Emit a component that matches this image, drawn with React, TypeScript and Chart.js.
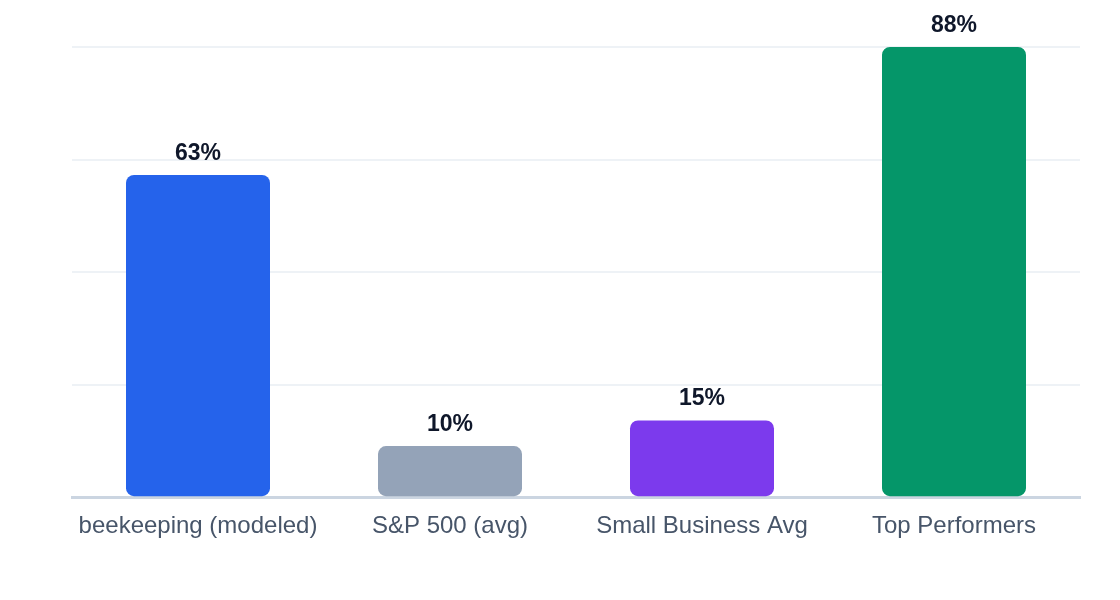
import { useEffect, useRef } from "react";
import { Chart, registerables } from "chart.js";

Chart.register(...registerables);

const categories = ["beekeeping (modeled)", "S&P 500 (avg)", "Small Business Avg", "Top Performers"];
const values = [63, 10, 15, 88];
const colors = ["#2563eb", "#94a3b8", "#7c3aed", "#059669"];

const FONT = "'Liberation Sans', Arial, Helvetica, sans-serif";

const valueLabels = {
  id: "valueLabels",
  afterDatasetsDraw(chart: any) {
    const { ctx } = chart;
    const meta = chart.getDatasetMeta(0);
    ctx.save();
    ctx.font = `bold 23px ${FONT}`;
    ctx.fillStyle = "#0f172a";
    ctx.textAlign = "center";
    ctx.textBaseline = "alphabetic";
    meta.data.forEach((bar: any, i: number) => {
      ctx.fillText(`${values[i]}%`, bar.x, bar.y - 15);
    });
    ctx.restore();
  },
};

export default function App() {
  const canvasRef = useRef<HTMLCanvasElement>(null);

  useEffect(() => {
    if (!canvasRef.current) return;

    const chart = new Chart(canvasRef.current, {
      type: "bar",
      data: {
        labels: categories,
        datasets: [
          {
            data: values,
            backgroundColor: colors,
            borderRadius: 8,
            borderSkipped: false,
            categoryPercentage: 1,
            barPercentage: 0.5714,
          },
        ],
      },
      options: {
        responsive: false,
        animation: false,
        layout: { padding: { left: 72, right: 40, top: 47, bottom: 52 } },
        plugins: {
          legend: { display: false },
          tooltip: { enabled: false },
        },
        scales: {
          x: {
            grid: { display: false },
            border: { color: "#cbd5e1", width: 3 },
            ticks: {
              color: "#475569",
              font: { family: FONT, size: 24 },
              padding: 7,
            },
          },
          y: {
            min: 0,
            max: 88,
            ticks: { display: false, stepSize: 22 },
            border: { display: false },
            grid: { color: "#eef2f6", lineWidth: 2, drawTicks: false },
          },
        },
      },
      plugins: [valueLabels],
    });

    return () => chart.destroy();
  }, []);

  return (
    <div style={{ position: "fixed", left: 0, top: 0, width: 1120, height: 600, background: "#fff" }}>
      <canvas ref={canvasRef} width={1120} height={600} />
    </div>
  );
}
